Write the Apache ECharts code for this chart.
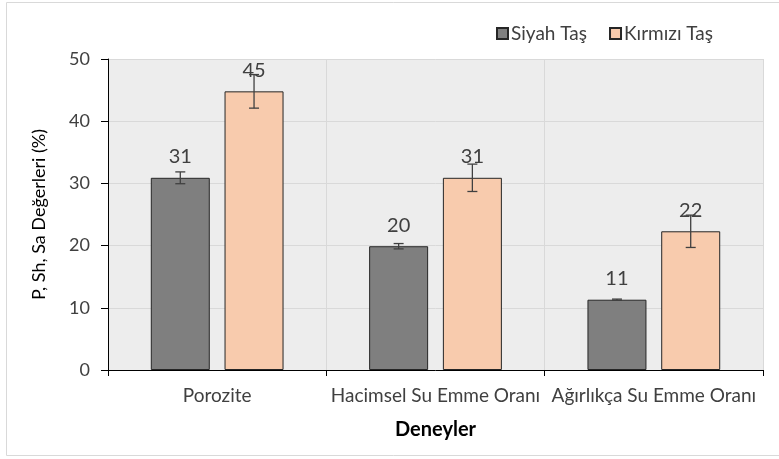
<!DOCTYPE html>
<html>
<head>
<meta charset="utf-8">
<script src="https://cdn.jsdelivr.net/npm/echarts@6/dist/echarts.min.js"></script>
<style>
  html, body { margin: 0; padding: 0; background: #fff; }
  #chart { width: 779px; height: 459px; }
</style>
</head>
<body>
<div id="chart"></div>
<script>
// deney kategorileri
const categories = ['Porozite', 'Hacimsel Su Emme Oranı', 'Ağırlıkça Su Emme Oranı']
// ortalama değerler (%)
const siyahTas = [30.9, 19.9, 11.3]
const kirmiziTas = [44.8, 30.9, 22.3]
// standart sapmalar
const siyahErr = [0.95, 0.43, 0.1]
const kirmiziErr = [2.7, 2.2, 2.6]
const yTicks = [0, 10, 20, 30, 40, 50]

const FONT = 'Lato, "Open Sans", sans-serif'
const BAR_W = 59

const chart = echarts.init(document.getElementById('chart'))

// hata çubukları için custom series
const errorSeries = (vals, errs, offset) => ({
  type: 'custom',
  z: 5,
  silent: true,
  data: vals.map((v, i) => [i, v, errs[i]]),
  renderItem: (params, api) => {
    const i = api.value(0)
    const v = api.value(1)
    const e = api.value(2)
    const x = api.coord([i, v])[0] + offset
    const yTop = api.coord([i, v + e])[1]
    const yBot = api.coord([i, v - e])[1]
    const style = { stroke: '#404040', lineWidth: 1.3 }
    return {
      type: 'group',
      children: [
        { type: 'line', shape: { x1: x, y1: yTop, x2: x, y2: yBot }, style },
        { type: 'line', shape: { x1: x - 5, y1: yTop, x2: x + 5, y2: yTop }, style },
        { type: 'line', shape: { x1: x - 5, y1: yBot, x2: x + 5, y2: yBot }, style }
      ]
    }
  }
})

const labelCfg = {
  show: true,
  position: 'top',
  distance: 11,
  fontSize: 20,
  fontFamily: FONT,
  color: '#404040',
  formatter: (p) => Math.round(p.value)
}

const option = {
  animation: false,
  textStyle: { fontFamily: FONT },
  graphic: [{
    type: 'rect',
    shape: { x: 6.5, y: 2.5, width: 790, height: 453 },
    style: { fill: 'none', stroke: '#d9d9d9', lineWidth: 1 },
    z: -10
  }],
  legend: {
    top: 19,
    left: 491,
    itemWidth: 11,
    itemHeight: 11,
    itemGap: 22,
    icon: 'rect',
    textStyle: { fontSize: 19, color: '#404040', fontFamily: FONT, padding: [0, 0, 0, -2] },
    data: ['Siyah Taş', 'Kırmızı Taş']
  },
  grid: {
    left: 108,
    right: 16,
    top: 59,
    bottom: 89,
    show: true,
    backgroundColor: '#ededed',
    borderWidth: 0
  },
  xAxis: {
    type: 'category',
    data: categories,
    name: 'Deneyler',
    nameLocation: 'middle',
    nameGap: 50,
    nameTextStyle: { fontSize: 20, fontWeight: 'bold', color: '#000', fontFamily: FONT },
    axisLine: { lineStyle: { color: '#000', width: 1 } },
    axisTick: { show: true, length: 6, lineStyle: { color: '#000' } },
    axisLabel: { fontSize: 19, color: '#404040', margin: 16, interval: 0, fontFamily: FONT },
    splitLine: { show: true, lineStyle: { color: '#d9d9d9' } }
  },
  yAxis: {
    type: 'value',
    min: 0,
    max: 50,
    interval: 10,
    name: 'P, Sh, Sa Değerleri (%)',
    nameLocation: 'middle',
    nameGap: 60,
    nameTextStyle: { fontSize: 18, color: '#000', fontFamily: FONT },
    axisLine: { show: true, lineStyle: { color: '#000', width: 1 } },
    axisTick: { show: true, length: 7, lineStyle: { color: '#000' } },
    axisLabel: {
      fontSize: 18,
      color: '#404040',
      margin: 18,
      fontFamily: FONT,
      formatter: (v) => (yTicks.includes(v) ? String(v) : '')
    },
    splitLine: { lineStyle: { color: '#d9d9d9' } }
  },
  series: [
    {
      name: 'Siyah Taş',
      type: 'bar',
      data: siyahTas,
      barWidth: BAR_W,
      barGap: '25%',
      itemStyle: { color: '#7f7f7f', borderColor: '#262626', borderWidth: 1 },
      label: labelCfg
    },
    {
      name: 'Kırmızı Taş',
      type: 'bar',
      data: kirmiziTas,
      barWidth: BAR_W,
      barGap: '25%',
      itemStyle: { color: '#f8cbad', borderColor: '#262626', borderWidth: 1 },
      label: labelCfg
    },
    errorSeries(siyahTas, siyahErr, -(BAR_W / 2 + BAR_W * 0.125)),
    errorSeries(kirmiziTas, kirmiziErr, BAR_W / 2 + BAR_W * 0.125)
  ]
}

chart.setOption(option)
window.addEventListener('resize', () => chart.resize())
</script>
</body>
</html>
